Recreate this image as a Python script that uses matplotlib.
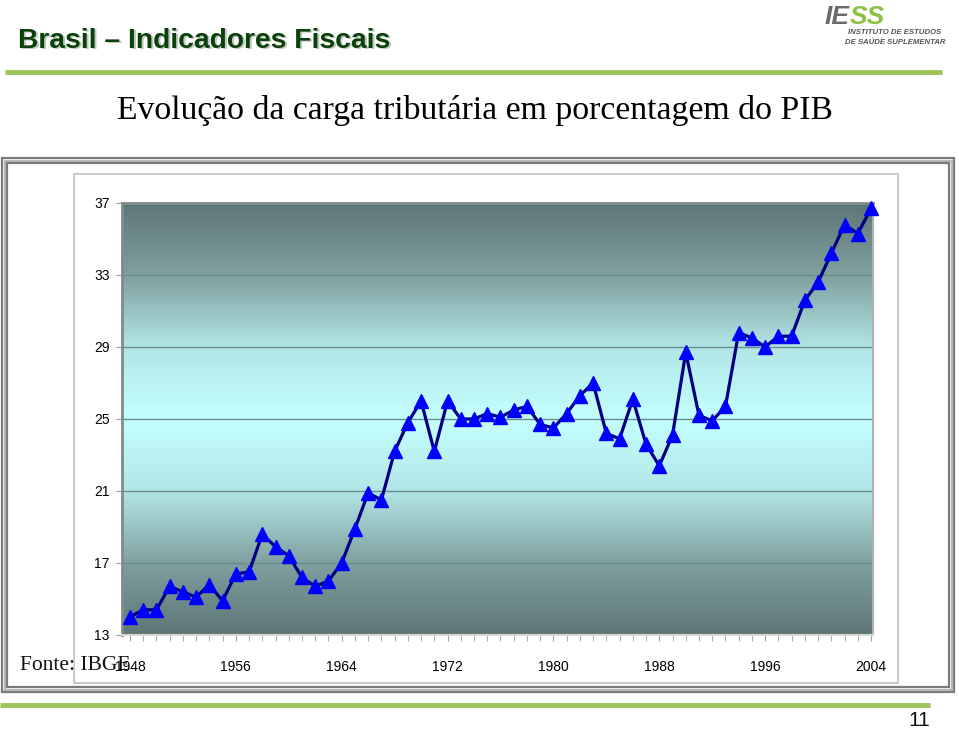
import numpy as np
import matplotlib.pyplot as plt
from matplotlib.patches import Rectangle
from matplotlib.colors import LinearSegmentedColormap

# carga tributaria (% do PIB)
anos = list(range(1948, 2005))
carga = [14.0, 14.4, 14.4, 15.7, 15.4, 15.1, 15.8, 14.9, 16.4, 16.5,
         18.6, 17.9, 17.4, 16.2, 15.7, 16.0, 17.0, 18.9, 20.9, 20.5,
         23.2, 24.8, 26.0, 23.2, 26.0, 25.0, 25.0, 25.3, 25.1, 25.5,
         25.7, 24.7, 24.5, 25.3, 26.3, 27.0, 24.2, 23.9, 26.1, 23.6,
         22.4, 24.1, 28.7, 25.2, 24.9, 25.7, 29.8, 29.5, 29.0, 29.6,
         29.6, 31.6, 32.6, 34.2, 35.8, 35.3, 36.7]
anos_rotulo = [1948, 1956, 1964, 1972, 1980, 1988, 1996, 2004]
y_ticks = [13, 17, 21, 25, 29, 33, 37]

W, H = 959, 732
fig = plt.figure(figsize=(W / 100, H / 100), dpi=100)

def fx(px):
    return px / W

def fy(py):
    return 1 - py / H

# fundo: molduras e linhas verdes
bg = fig.add_axes([0, 0, 1, 1])
bg.set_xlim(0, W)
bg.set_ylim(H, 0)
bg.axis('off')

bg.plot([5, 942], [72, 72], color='#9dc35a', lw=3.5, solid_capstyle='butt')
bg.plot([0, 930], [705, 705], color='#9dc35a', lw=3.5, solid_capstyle='butt')

for off, col in [(0, '#7a7a7a'), (2.5, '#b8b8b8'), (5, '#7a7a7a')]:
    bg.add_patch(Rectangle((2 + off, 158 + off), 952 - 2 * off, 534 - 2 * off,
                           fill=False, ec=col, lw=1.6))
bg.add_patch(Rectangle((74, 174), 824, 509, fill=False, ec='#c0c0c0', lw=1.2))

# titulos
fig.text(fx(19.5), fy(42), 'Brasil – Indicadores Fiscais', fontsize=20.3,
         fontweight='bold', family='Liberation Sans', color='#bfc9bf',
         va='center', ha='left')
fig.text(fx(18), fy(40.5), 'Brasil – Indicadores Fiscais', fontsize=20.3,
         fontweight='bold', family='Liberation Sans', color='#0b3f0b',
         va='center', ha='left')
fig.text(fx(475), fy(110), 'Evolução da carga tributária em porcentagem do PIB',
         fontsize=24.3, family='Liberation Serif', color='black',
         ha='center', va='center')
fig.text(fx(20), fy(666), 'Fonte: IBGE', fontsize=15.5, family='Liberation Serif',
         color='#111111', ha='left', va='center', zorder=10)
fig.text(fx(919), fy(721), '11', fontsize=15, family='Liberation Sans',
         color='#111111', ha='center', va='center')

# logo IESS
fig.text(fx(825), fy(17), 'IE', fontsize=19, fontweight='bold', style='italic',
         family='Liberation Sans', color='#6a6a6a', ha='left', va='center')
fig.text(fx(850), fy(17), 'SS', fontsize=19, fontweight='bold', style='italic',
         family='Liberation Sans', color='#8cc043', ha='left', va='center')
fig.text(fx(848), fy(33), 'INSTITUTO DE ESTUDOS', fontsize=5.6, fontweight='bold',
         style='italic', family='Liberation Sans', color='#555555', ha='left', va='center')
fig.text(fx(845), fy(43), 'DE SAÚDE SUPLEMENTAR', fontsize=5.6, fontweight='bold',
         style='italic', family='Liberation Sans', color='#555555', ha='left', va='center')

# grafico
ax = fig.add_axes([fx(122), fy(635), fx(873) - fx(122), (635 - 203) / H])
x0, x1 = 1947.4, 2004.15
ax.set_xlim(x0, x1)
ax.set_ylim(13, 37)

cmap = LinearSegmentedColormap.from_list('fundo', [
    (0.0, '#5e7676'), (1 / 6, '#80a0a0'), (2 / 6, '#b2e6e6'), (0.5, '#c4ffff'),
    (4 / 6, '#b2e6e6'), (5 / 6, '#80a0a0'), (1.0, '#5e7676')])
grad = np.linspace(0, 1, 256).reshape(-1, 1)
ax.imshow(grad, extent=[x0, x1, 13, 37], aspect='auto', cmap=cmap,
          origin='lower', zorder=0)

for v in y_ticks[1:-1]:
    ax.axhline(v, color='#6a8c8c', lw=1, zorder=1)

ax.plot(anos, carga, color='#000080', lw=2.3, marker='^', markersize=10,
        markerfacecolor='#0000ff', markeredgecolor='#0000ff', zorder=3,
        clip_on=False)

for s in ['left', 'top']:
    ax.spines[s].set_color('#7f8c8c')
    ax.spines[s].set_linewidth(2)
ax.spines['right'].set_color('#b0b0b0')
ax.spines['right'].set_linewidth(1.5)
ax.spines['bottom'].set_color('#d8d8d8')
ax.spines['bottom'].set_linewidth(1.5)

ax.set_yticks(y_ticks)
ax.set_yticklabels([str(v) for v in y_ticks], family='Liberation Sans', fontsize=10)
ax.set_xticks(anos_rotulo)
ax.set_xticklabels([str(a) for a in anos_rotulo], family='Liberation Sans', fontsize=10)
ax.set_xticks(anos, minor=True)
ax.tick_params(axis='x', which='major', length=4, color='#a0a0a0', pad=14)
ax.tick_params(axis='x', which='minor', length=4, color='#a0a0a0')
ax.tick_params(axis='y', length=4, color='#a0a0a0', pad=5)

fig.savefig('out.png', dpi=100)
